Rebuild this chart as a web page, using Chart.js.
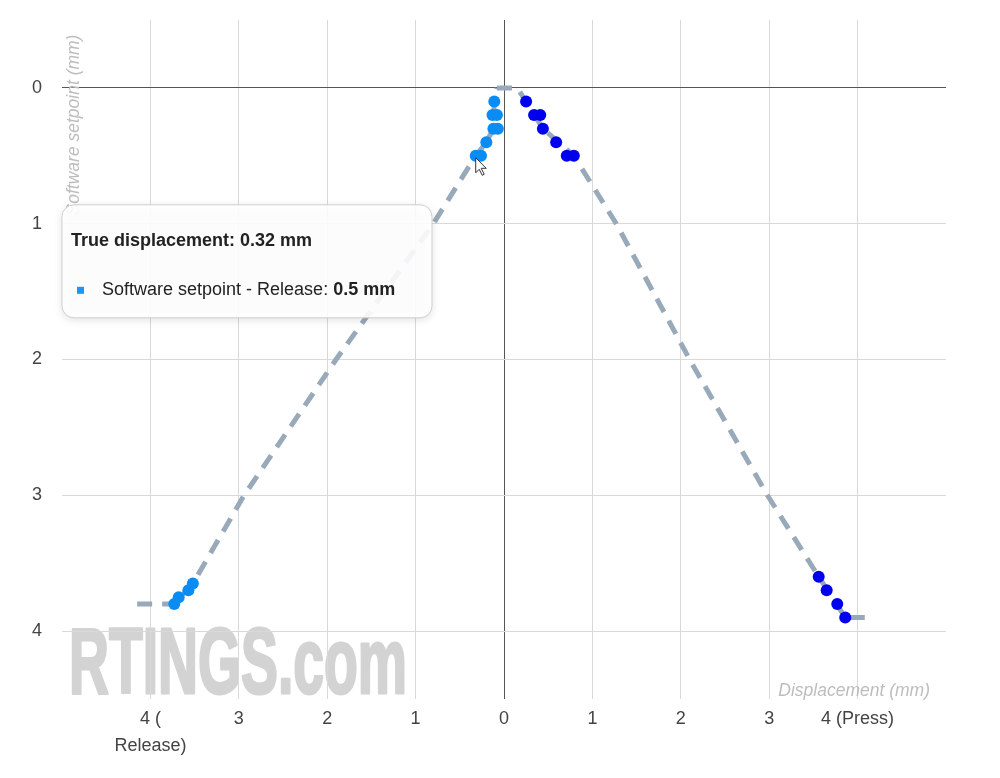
<!DOCTYPE html>
<html lang="en">
<head>
<meta charset="UTF-8" />
<title>Software setpoint vs true displacement</title>
<script src="https://cdn.jsdelivr.net/npm/chart.js"></script>
<style>
  body { margin: 0; background: #fff; }
  .chart-box { position: relative; width: 1000px; height: 778px; }
</style>
</head>
<body>
<div class="chart-box"><canvas id="setpointChart"></canvas></div>
<script>
  // Software setpoints (negative x = release travel, positive x = press travel)
  const releaseX = [-0.11, -0.13, -0.08, -0.12, -0.07, -0.2, -0.32, -0.26, -3.52, -3.57, -3.68, -3.73];
  const releaseY = [0.1, 0.2, 0.2, 0.3, 0.3, 0.4, 0.5, 0.5, 3.65, 3.7, 3.75, 3.8];
  const pressX = [0.25, 0.34, 0.41, 0.44, 0.59, 0.71, 0.79, 3.56, 3.65, 3.77, 3.86];
  const pressY = [0.1, 0.2, 0.2, 0.3, 0.4, 0.5, 0.5, 3.6, 3.7, 3.8, 3.9];

  // Measured travel curves (grey dashed)
  const releaseLineX = [-4.15, -3.73, -3.52, -2.94, -1.9, -0.8, -0.32, -0.2, -0.12, -0.11, -0.08];
  const releaseLineY = [3.8, 3.8, 3.65, 3, 2, 1, 0.5, 0.4, 0.3, 0.1, 0];
  const pressLineX = [-0.08, 0.15, 0.25, 0.44, 0.79, 1.27, 2.1, 2.98, 3.56, 3.86, 4.15];
  const pressLineY = [0, 0, 0.1, 0.3, 0.5, 1, 2, 3, 3.6, 3.9, 3.9];

  const xTickValues = [-4, -3, -2, -1, 0, 1, 2, 3, 4];
  const xTickLabels = [["4 (", "Release)"], "3", "2", "1", "0", "1", "2", "3", "4 (Press)"];
  const yTickValues = [0, 1, 2, 3, 4];

  const hoverIndex = 6; // release point under the mouse

  const toPoints = (xs, ys) => xs.map((x, i) => ({ x: x, y: ys[i] }));

  Chart.defaults.font.family = "'Liberation Sans', Arial, sans-serif";
  Chart.defaults.font.size = 18;
  Chart.defaults.color = "#444";

  const gridColor = (c) => (c.tick && c.tick.value === 0 ? "#555" : "#d9d9d9");

  // watermark, drawn under the grid
  const watermark = {
    id: "watermark",
    beforeDraw(chart) {
      const ctx = chart.ctx;
      const area = chart.chartArea;
      ctx.save();
      ctx.font = "bold 92px 'Liberation Sans Narrow', 'Liberation Sans', sans-serif";
      ctx.fillStyle = "#d3d3d3";
      ctx.strokeStyle = "#d3d3d3";
      ctx.lineWidth = 3;
      ctx.lineJoin = "round";
      ctx.textBaseline = "alphabetic";
      const w = ctx.measureText("RTINGS.com").width;
      ctx.translate(area.left + 7, area.bottom - 6);
      ctx.scale(338 / w, 1);
      ctx.fillText("RTINGS.com", 0, 0);
      ctx.strokeText("RTINGS.com", 0, 0);
      ctx.restore();
    }
  };

  // axis titles sit inside the plot, then the hover tooltip on top
  const overlay = {
    id: "overlay",
    afterDraw(chart) {
      const ctx = chart.ctx;
      const area = chart.chartArea;
      ctx.save();
      ctx.font = "italic 17.5px 'Liberation Sans', Arial, sans-serif";
      ctx.fillStyle = "#bdbdbd";
      ctx.textAlign = "right";
      ctx.textBaseline = "alphabetic";
      ctx.fillText("Displacement (mm)", area.right - 16, area.bottom - 3);

      ctx.translate(area.left + 12, area.top + 105);
      ctx.rotate(-Math.PI / 2);
      ctx.textAlign = "center";
      ctx.textBaseline = "middle";
      ctx.fillText("Software setpoint (mm)", 0, 0);
      ctx.restore();

      // tooltip
      const ds = chart.data.datasets[0];
      const pt = ds.data[hoverIndex];
      const px = chart.scales.x.getPixelForValue(pt.x);
      const py = chart.scales.y.getPixelForValue(pt.y);
      const bx = area.left, by = py + 49, bw = 370, bh = 113, r = 12;

      ctx.save();
      ctx.shadowColor = "rgba(0,0,0,0.14)";
      ctx.shadowBlur = 8;
      ctx.shadowOffsetY = 2;
      ctx.beginPath();
      ctx.roundRect(bx, by, bw, bh, r);
      ctx.fillStyle = "rgba(255,255,255,0.9)";
      ctx.fill();
      ctx.shadowColor = "transparent";
      ctx.lineWidth = 1;
      ctx.strokeStyle = "#cfcfcf";
      ctx.stroke();

      ctx.textBaseline = "middle";
      ctx.textAlign = "left";
      ctx.fillStyle = "#222";
      ctx.font = "bold 18px 'Liberation Sans', Arial, sans-serif";
      ctx.fillText("True displacement: " + Math.abs(pt.x).toFixed(2) + " mm", bx + 9, by + 36);

      ctx.fillStyle = "#1e96f0";
      ctx.fillRect(bx + 15, by + 82, 7, 7);

      ctx.fillStyle = "#222";
      ctx.font = "18px 'Liberation Sans', Arial, sans-serif";
      const label = ds.label + ": ";
      ctx.fillText(label, bx + 40, by + 85);
      const lw = ctx.measureText(label).width;
      ctx.font = "bold 18px 'Liberation Sans', Arial, sans-serif";
      ctx.fillText(pt.y + " mm", bx + 40 + lw, by + 85);
      ctx.restore();

      // mouse pointer
      ctx.save();
      ctx.translate(px, py + 2);
      ctx.beginPath();
      ctx.moveTo(0, 0);
      ctx.lineTo(0, 15);
      ctx.lineTo(3.5, 11.5);
      ctx.lineTo(6.5, 17.5);
      ctx.lineTo(8.5, 16.5);
      ctx.lineTo(5.5, 10.5);
      ctx.lineTo(10.5, 10.5);
      ctx.closePath();
      ctx.fillStyle = "#fff";
      ctx.fill();
      ctx.lineWidth = 1;
      ctx.strokeStyle = "#333";
      ctx.stroke();
      ctx.restore();
    }
  };

  const lineStyle = {
    showLine: true,
    borderColor: "#98a9b9",
    borderWidth: 5,
    borderDash: [15, 10],
    borderCapStyle: "butt",
    pointRadius: 0,
    fill: false,
    order: 2
  };

  new Chart(document.getElementById("setpointChart"), {
    type: "scatter",
    data: {
      datasets: [
        {
          label: "Software setpoint - Release",
          data: toPoints(releaseX, releaseY),
          backgroundColor: "#0a8cf5",
          borderColor: "#0a8cf5",
          pointRadius: 6,
          pointBorderWidth: 0,
          order: 1
        },
        {
          label: "Software setpoint - Press",
          data: toPoints(pressX, pressY),
          backgroundColor: "#0000ee",
          borderColor: "#0000ee",
          pointRadius: 6,
          pointBorderWidth: 0,
          order: 1
        },
        Object.assign({ label: "Travel - Release", data: toPoints(releaseLineX, releaseLineY) }, lineStyle),
        Object.assign({ label: "Travel - Press", data: toPoints(pressLineX, pressLineY) }, lineStyle)
      ]
    },
    options: {
      responsive: true,
      maintainAspectRatio: false,
      animation: false,
      events: [],
      layout: { padding: { left: 29, right: 54, top: 20, bottom: 11 } },
      plugins: {
        legend: { display: false },
        tooltip: { enabled: false }
      },
      scales: {
        x: {
          type: "linear",
          min: -5,
          max: 5,
          afterBuildTicks: (axis) => { axis.ticks = xTickValues.map((v) => ({ value: v })); },
          ticks: {
            padding: 7,
            maxRotation: 0,
            font: { size: 18, lineHeight: 1.5 },
            callback: (v) => xTickLabels[xTickValues.indexOf(v)]
          },
          grid: { color: gridColor, drawTicks: false },
          border: { display: false }
        },
        y: {
          type: "linear",
          reverse: true,
          min: -0.5,
          max: 4.5,
          afterBuildTicks: (axis) => { axis.ticks = yTickValues.map((v) => ({ value: v })); },
          ticks: { padding: 3 },
          grid: { color: gridColor, drawTicks: true, tickLength: 17, tickColor: "rgba(0,0,0,0)" },
          border: { display: false }
        }
      }
    },
    plugins: [watermark, overlay]
  });
</script>
</body>
</html>
